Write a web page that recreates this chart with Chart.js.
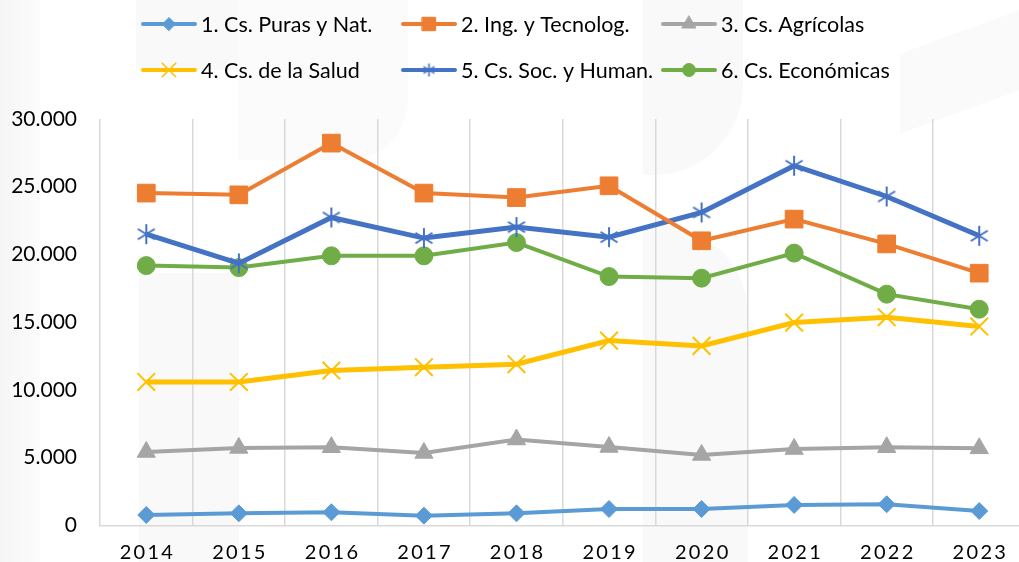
<!DOCTYPE html>
<html>
<head>
<meta charset="utf-8">
<script src="https://cdn.jsdelivr.net/npm/chart.js@4/dist/chart.umd.min.js"></script>
<style>
  html, body { margin: 0; padding: 0; background: #ffffff; overflow: hidden; }
  #wrap { position: relative; width: 1040px; height: 562px; }
  #wrap canvas { position: absolute; left: 0; top: 0; }
  .wm { position: absolute; background: #f9f9f9; }
</style>
</head>
<body>
<div id="wrap">
  <!-- faint background emblem -->
  <div class="wm" style="left:0;top:0;width:40px;height:562px;background:linear-gradient(90deg,#f5f5f5,#fcfcfc);"></div>
  <div class="wm" style="left:136px;top:0;width:110px;height:70px;"></div>
  <div class="wm" style="left:139px;top:273px;width:100px;height:289px;"></div>
  <div class="wm" style="left:238px;top:0;width:170px;height:160px;border-radius:0 0 60px 0;background:#fbfbfb;"></div>
  <div class="wm" style="left:643px;top:0;width:100px;height:175px;border-radius:0 0 90px 0;"></div>
  <div class="wm" style="left:643px;top:225px;width:105px;height:337px;border-radius:0 90px 0 0;"></div>
  <div class="wm" style="left:900px;top:30px;width:130px;height:80px;transform:skewY(-20deg);background:#fafafa;"></div>
  <canvas id="c" width="1040" height="562"></canvas>
</div>
<script>
// Categories and series (por área del conocimiento)
const years = ['2014', '2015', '2016', '2017', '2018', '2019', '2020', '2021', '2022', '2023'];
const seriesNames = [
  '1. Cs. Puras y Nat.',
  '2. Ing. y Tecnolog.',
  '3. Cs. Agrícolas',
  '4. Cs. de la Salud',
  '5. Cs. Soc. y Human.',
  '6. Cs. Económicas'
];
const purasNat    = [770, 890, 970, 720, 890, 1210, 1210, 1510, 1560, 1060];
const ingTecno    = [24530, 24400, 28220, 24530, 24200, 25070, 21010, 22610, 20780, 18620];
const agricolas   = [5420, 5720, 5770, 5350, 6340, 5790, 5200, 5640, 5770, 5690];
const salud       = [10590, 10590, 11430, 11680, 11900, 13640, 13250, 14970, 15370, 14680];
const socHuman    = [21500, 19340, 22730, 21210, 22020, 21280, 23100, 26550, 24280, 21380];
const economicas  = [19180, 19030, 19900, 19900, 20880, 18370, 18250, 20100, 17070, 15960];
const yTicks = [0, 5000, 10000, 15000, 20000, 25000, 30000];

const fmt = v => v === 0 ? '0' : v.toLocaleString('de-DE');

// six-armed asterisk marker (vertical stroke + X)
function makeAsterisk(size, color, lw) {
  const cv = document.createElement('canvas');
  cv.width = size; cv.height = size;
  const g = cv.getContext('2d');
  const c = size / 2, r = size / 2 - 1;
  g.strokeStyle = color; g.lineWidth = lw; g.lineCap = 'butt';
  g.beginPath();
  g.moveTo(c, c - r); g.lineTo(c, c + r);
  const d = r * 0.85;
  g.moveTo(c - d, c - d * 0.62); g.lineTo(c + d, c + d * 0.62);
  g.moveTo(c + d, c - d * 0.62); g.lineTo(c - d, c + d * 0.62);
  g.stroke();
  return cv;
}

const COL = {
  blue: '#5B9BD5', orange: '#ED7D31', gray: '#A5A5A5',
  yellow: '#FFC000', navy: '#4472C4', green: '#70AD47'
};

const asteriskBig = makeAsterisk(22, COL.navy, 2);
const asteriskSmall = makeAsterisk(15, COL.navy, 1.6);

function ds(label, data, color, style, radius, lineW, ptBorder) {
  return {
    label, data,
    borderColor: color, backgroundColor: color,
    borderWidth: lineW,
    pointStyle: style, pointRadius: radius, pointHoverRadius: radius,
    pointBackgroundColor: color, pointBorderColor: color,
    pointBorderWidth: ptBorder,
    tension: 0, fill: false
  };
}

const datasets = [
  ds(seriesNames[0], purasNat,   COL.blue,   'rectRot',  8.5, 4, 1),
  ds(seriesNames[1], ingTecno,   COL.orange, 'rect',     12.5, 4, 1),
  ds(seriesNames[2], agricolas,  COL.gray,   'triangle', 10.5, 4, 1),
  ds(seriesNames[3], salud,      COL.yellow, 'crossRot', 12.5, 5, 2),
  ds(seriesNames[4], socHuman,   COL.navy,   asteriskBig, 11, 5, 2),
  ds(seriesNames[5], economicas, COL.green,  'circle',   9, 4, 1)
];

// legend layout: 3 columns x 2 rows, line sample with marker
const legendCols = [143, 403, 663];
const legendRows = [24, 70];
const legendLine = 52;
const legendMarker = [
  { style: 'rectRot', r: 6.5 },
  { style: 'rect', r: 9.5 },
  { style: 'triangle', r: 8 },
  { style: 'crossRot', r: 9.5, bw: 1.6 },
  { style: asteriskSmall, r: 7 },
  { style: 'circle', r: 6.5 }
];

const drawExtras = {
  id: 'drawExtras',
  afterDraw(chart) {
    const ctx = chart.ctx;
    // legend
    ctx.save();
    ctx.font = '21.5px Lato';
    ctx.textBaseline = 'middle';
    ctx.textAlign = 'left';
    chart.data.datasets.forEach((d, i) => {
      const x0 = legendCols[i % 3];
      const y0 = legendRows[Math.floor(i / 3)];
      ctx.strokeStyle = d.borderColor;
      ctx.lineWidth = 4;
      ctx.lineCap = 'round';
      ctx.beginPath();
      ctx.moveTo(x0, y0); ctx.lineTo(x0 + legendLine, y0);
      ctx.stroke();
      const m = legendMarker[i];
      ctx.fillStyle = d.borderColor;
      ctx.strokeStyle = d.borderColor;
      ctx.lineWidth = m.bw || 1;
      Chart.helpers.drawPoint(ctx, { pointStyle: m.style, radius: m.r, rotation: 0, borderWidth: m.bw || 1 }, x0 + legendLine / 2, y0);
      ctx.fillStyle = '#000';
      ctx.fillText(d.label, x0 + legendLine + 6, y0 + 1);
    });
    ctx.restore();

    // x-axis category labels (spaced digits)
    const xs = chart.scales.x;
    const sp = 2.3;
    ctx.save();
    ctx.font = '20px Lato';
    ctx.fillStyle = '#000';
    ctx.textBaseline = 'middle';
    ctx.textAlign = 'left';
    ctx.letterSpacing = sp + 'px';
    chart.data.labels.forEach((lab, i) => {
      const w = ctx.measureText(lab).width - sp;
      const x = xs.getPixelForTick(i);
      ctx.fillText(lab, x - w / 2, 553);
    });
    ctx.restore();
  }
};

new Chart(document.getElementById('c'), {
  type: 'line',
  data: { labels: years, datasets },
  options: {
    responsive: false,
    animation: false,
    events: [],
    layout: { padding: { top: 119, right: 10.5, left: 0, bottom: 0 } },
    plugins: { legend: { display: false }, tooltip: { enabled: false } },
    scales: {
      x: {
        offset: true,
        grid: { offset: true, color: '#D9D9D9', lineWidth: 1.5, drawTicks: false },
        border: { color: '#D9D9D9', width: 1.5 },
        ticks: { display: false },
        afterFit(s) { s.height = 36.6; }
      },
      y: {
        min: 0, max: 30000,
        afterBuildTicks(s) { s.ticks = yTicks.map(v => ({ value: v })); },
        ticks: {
          padding: 23, color: '#000',
          font: { family: 'Lato', size: 21 },
          callback: v => fmt(v)
        },
        grid: { display: false, drawTicks: false },
        border: { display: false },
        afterFit(s) { s.width = 100; }
      }
    }
  },
  plugins: [drawExtras]
});
</script>
</body>
</html>
